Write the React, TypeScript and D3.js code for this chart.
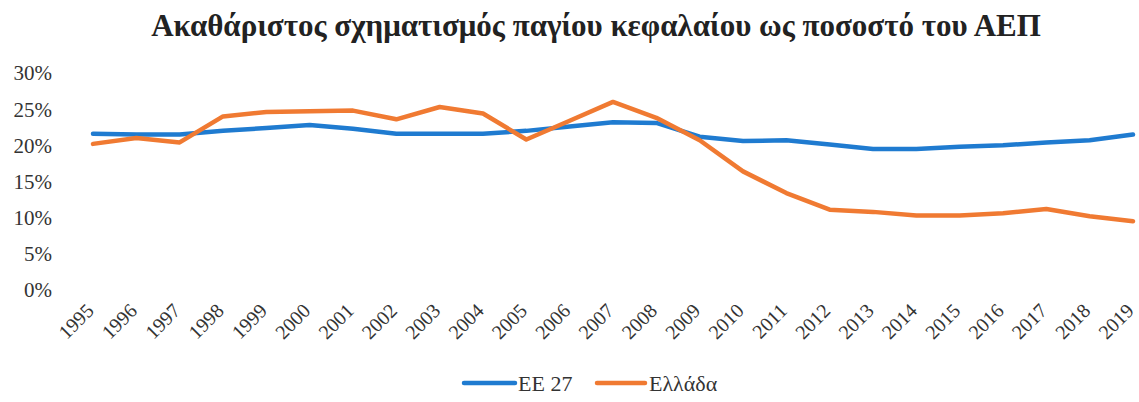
import React from "react";
import * as d3 from "d3";

const years = ["1995","1996","1997","1998","1999","2000","2001","2002","2003","2004","2005","2006","2007","2008","2009","2010","2011","2012","2013","2014","2015","2016","2017","2018","2019"];
const eu27 = [21.6,21.5,21.5,22.0,22.4,22.8,22.3,21.6,21.6,21.6,22.0,22.6,23.2,23.1,21.2,20.6,20.7,20.1,19.5,19.5,19.8,20.0,20.4,20.7,21.5];
const greece = [20.2,21.0,20.4,24.0,24.6,24.7,24.8,23.6,25.3,24.4,20.8,23.4,26.0,23.8,20.7,16.4,13.4,11.1,10.8,10.3,10.3,10.6,11.2,10.2,9.5];
const yTicks = [0,5,10,15,20,25,30];
const seriesNames = ["ΕΕ 27","Ελλάδα"];
const colors = ["#1f7bd0","#f07a32"];
const title = "Ακαθάριστος σχηματισμός παγίου κεφαλαίου ως ποσοστό του ΑΕΠ";

export default function App() {
  const W = 1139, H = 402;
  const x = d3.scalePoint<string>().domain(years).range([93, 1133]);
  const y = d3.scaleLinear().domain([0, 30]).range([290, 73]);
  const line = d3.line<number>().x((_, i) => x(years[i]) as number).y(d => y(d));
  const ff = { fontFamily: '"Liberation Serif", "DejaVu Serif", serif' };
  const series = [eu27, greece];
  return (
    <svg width={W} height={H} style={{ position: "absolute", left: 0, top: 0, background: "#fff" }}>
      <text x={596} y={36} textAnchor="middle" style={ff} fontWeight="bold" fontSize={31} fill="#222">{title}</text>
      {yTicks.map(t => (
        <text key={t} x={52} y={y(t)} dy="0.35em" textAnchor="end" style={ff} fontSize={21} fill="#333">{t}%</text>
      ))}
      {years.map(yr => {
        const px = (x(yr) as number) + 2;
        const py = 312;
        return (
          <text key={yr} x={px} y={py} transform={`rotate(-45 ${px} ${py})`} textAnchor="end" style={ff} fontSize={20} fill="#333">{yr}</text>
        );
      })}
      {series.map((s, i) => (
        <path key={i} d={line(s) || ""} fill="none" stroke={colors[i]} strokeWidth={4.5} strokeLinejoin="round" strokeLinecap="round" />
      ))}
      <g>
        <line x1={464} x2={515} y1={383} y2={383} stroke={colors[0]} strokeWidth={4.5} strokeLinecap="round" />
        <text x={518} y={383} dy="0.35em" style={ff} fontSize={22} fill="#333">{seriesNames[0]}</text>
        <line x1={597} x2={645} y1={383} y2={383} stroke={colors[1]} strokeWidth={4.5} strokeLinecap="round" />
        <text x={649} y={383} dy="0.35em" style={ff} fontSize={22} fill="#333">{seriesNames[1]}</text>
      </g>
    </svg>
  );
}
